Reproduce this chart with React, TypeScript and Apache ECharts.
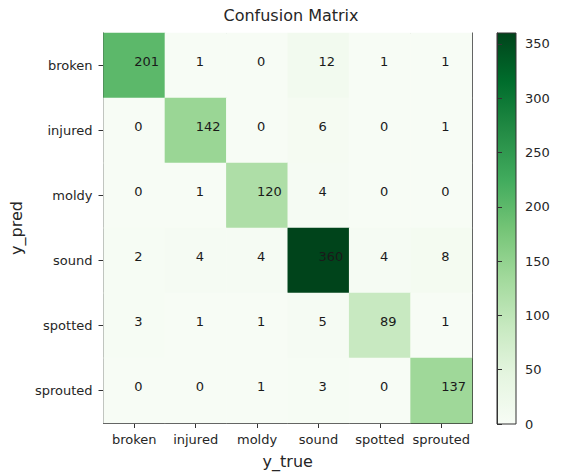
import React, { useEffect, useRef } from "react";
import * as echarts from "echarts";

const trueLabels = ["broken", "injured", "moldy", "sound", "spotted", "sprouted"];
const predLabels = ["broken", "injured", "moldy", "sound", "spotted", "sprouted"];

// rows: predicted class, columns: true class
const predBroken = [201, 1, 0, 12, 1, 1];
const predInjured = [0, 142, 0, 6, 0, 1];
const predMoldy = [0, 1, 120, 4, 0, 0];
const predSound = [2, 4, 4, 360, 4, 8];
const predSpotted = [3, 1, 1, 5, 89, 1];
const predSprouted = [0, 0, 1, 3, 0, 137];

const colorbarTicks = [0, 50, 100, 150, 200, 250, 300, 350];
const colorMin = 0;
const colorMax = 360;

const greens = ["#f7fcf5", "#e5f5e0", "#c7e9c0", "#a1d99b", "#74c476", "#41ab5d", "#238b45", "#006d2c", "#00441b"];

const FONT = "DejaVu Sans";
const TXT = "#262626";
const LINE = "#333333";

export default function App() {
  const ref = useRef<HTMLDivElement>(null);

  useEffect(() => {
    document.body.style.margin = "0";
    if (!ref.current) return;
    const chart = echarts.init(ref.current, null, { renderer: "svg" });

    const rows = [predBroken, predInjured, predMoldy, predSound, predSpotted, predSprouted];
    const data: number[][] = [];
    rows.forEach((row, yi) => row.forEach((v, xi) => data.push([xi, yi, v])));

    const gradStops = greens
      .slice()
      .reverse()
      .map((c, i) => ({ offset: i / (greens.length - 1), color: c }));

    const tickLabelStyle = { color: TXT, fontSize: 13, fontFamily: FONT };

    chart.setOption({
      animation: false,
      backgroundColor: "#ffffff",
      title: {
        text: "Confusion Matrix",
        left: 286,
        top: 2,
        textAlign: "center",
        textStyle: { color: TXT, fontSize: 16, fontWeight: "normal", fontFamily: FONT },
      },
      grid: [
        { left: 99, top: 33, width: 373, height: 391, containLabel: false },
        {
          left: 497,
          top: 33,
          width: 19,
          height: 391,
          show: true,
          backgroundColor: { type: "linear", x: 0, y: 0, x2: 0, y2: 1, colorStops: gradStops },
          borderColor: LINE,
          borderWidth: 1,
        },
      ],
      visualMap: {
        type: "continuous",
        show: false,
        min: colorMin,
        max: colorMax,
        seriesIndex: 0,
        inRange: { color: greens },
      },
      xAxis: [
        {
          type: "category",
          gridIndex: 0,
          data: trueLabels,
          position: "bottom",
          name: "y_true",
          nameLocation: "middle",
          nameGap: 30,
          nameTextStyle: { color: TXT, fontSize: 16, fontFamily: FONT },
          axisLine: { show: true, lineStyle: { color: LINE, width: 1 } },
          axisTick: { show: true, alignWithLabel: true, length: 5, lineStyle: { color: LINE } },
          axisLabel: { ...tickLabelStyle, margin: 10, interval: 0 },
          splitLine: { show: false },
        },
        {
          type: "category",
          gridIndex: 0,
          data: trueLabels,
          position: "top",
          axisLine: { show: true, lineStyle: { color: LINE, width: 1 } },
          axisTick: { show: false },
          axisLabel: { show: false },
          splitLine: { show: false },
        },
        { type: "value", gridIndex: 1, min: 0, max: 1, show: false },
      ],
      yAxis: [
        {
          type: "category",
          gridIndex: 0,
          data: predLabels,
          inverse: true,
          position: "left",
          name: "y_pred",
          nameLocation: "middle",
          nameGap: 73,
          nameTextStyle: { color: TXT, fontSize: 16, fontFamily: FONT },
          axisLine: { show: true, lineStyle: { color: LINE, width: 1 } },
          axisTick: { show: true, alignWithLabel: true, length: 5, lineStyle: { color: LINE } },
          axisLabel: { ...tickLabelStyle, margin: 11, interval: 0 },
          splitLine: { show: false },
        },
        {
          type: "category",
          gridIndex: 0,
          data: predLabels,
          inverse: true,
          position: "right",
          axisLine: { show: true, lineStyle: { color: LINE, width: 1 } },
          axisTick: { show: false },
          axisLabel: { show: false },
          splitLine: { show: false },
        },
        {
          type: "value",
          gridIndex: 1,
          min: colorMin,
          max: colorMax,
          position: "right",
          axisLine: { show: true, lineStyle: { color: LINE, width: 1 } },
          axisTick: { show: true, length: 5, lineStyle: { color: LINE }, customValues: colorbarTicks },
          axisLabel: { ...tickLabelStyle, margin: 9, customValues: colorbarTicks },
          splitLine: { show: false },
        },
      ],
      series: [
        {
          type: "heatmap",
          xAxisIndex: 0,
          yAxisIndex: 0,
          data,
          label: {
            show: true,
            position: ["50%", "50%"],
            align: "left",
            verticalAlign: "middle",
            offset: [0, -4],
            color: "#1a1a1a",
            fontSize: 13,
            fontFamily: FONT,
          },
          itemStyle: { borderWidth: 0 },
          emphasis: { disabled: true },
        },
      ],
    });

    return () => chart.dispose();
  }, []);

  return <div ref={ref} style={{ width: 561, height: 474 }} />;
}
